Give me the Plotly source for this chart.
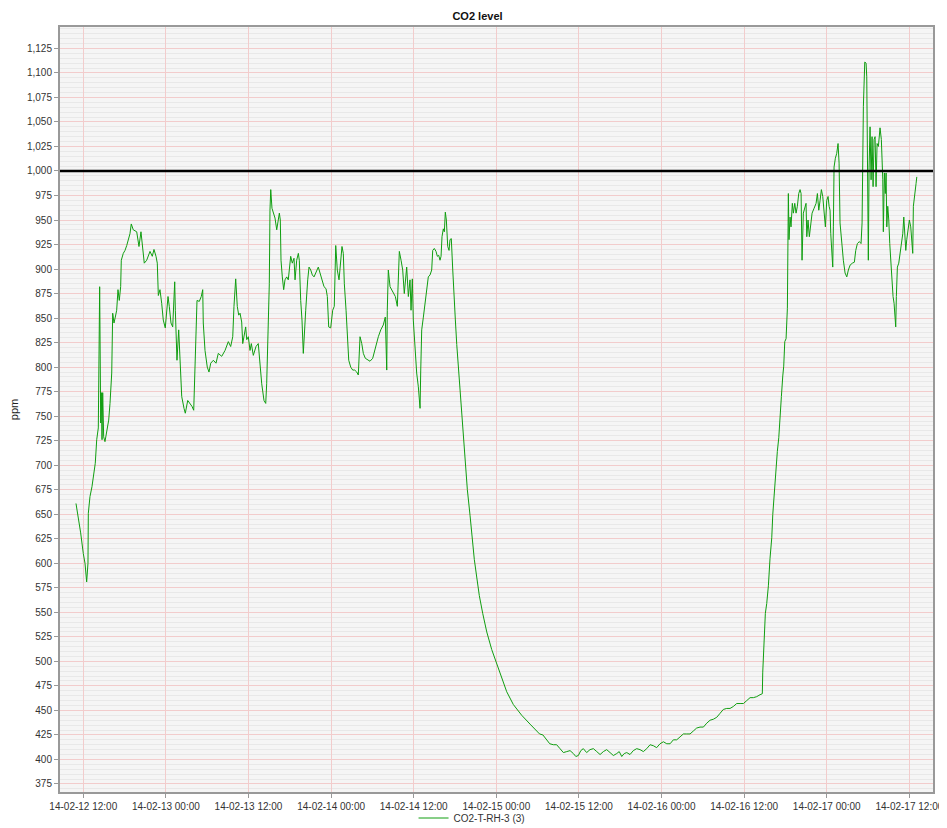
import pandas as pd
import plotly.graph_objects as go

# ---- data (hours since 2014-02-12 00:00, CO2 in ppm) ----
hours_since_start = [
    10.94, 11.27, 11.62, 12.00, 12.25, 12.49, 12.68, 12.73, 12.97, 13.26, 13.45, 13.74, 13.95, 14.18,
    14.38, 14.43, 14.53, 14.62, 14.72, 14.82, 14.96, 15.15, 15.40, 15.69, 15.88, 16.13, 16.27, 16.46,
    16.65, 16.85, 17.04, 17.23, 17.43, 17.52, 17.81, 18.06, 18.31, 18.54, 18.78, 18.97, 19.26, 19.76,
    20.09, 20.38, 20.63, 20.86, 21.21, 21.44, 21.69, 22.02, 22.27, 22.56, 22.75, 22.90, 23.14, 23.39,
    23.62, 23.91, 24.12, 24.31, 24.49, 24.74, 24.99, 25.28, 25.37, 25.47, 25.61, 25.86, 26.05, 26.30,
    26.63, 26.82, 27.17, 27.50, 27.79, 28.04, 28.18, 28.37, 28.52, 28.85, 29.14, 29.35, 29.43, 29.68,
    30.01, 30.26, 30.51, 30.89, 31.28, 31.61, 32.11, 32.59, 33.07, 33.41, 33.71, 33.89, 34.14, 34.37,
    34.58, 34.77, 35.01, 35.16, 35.35, 35.59, 35.74, 35.97, 36.22, 36.41, 36.70, 37.09, 37.42, 37.67,
    37.92, 38.25, 38.50, 38.64, 38.79, 38.88, 39.02, 39.12, 39.23, 39.41, 39.60, 39.85, 40.10, 40.33,
    40.48, 40.62, 40.72, 40.91, 41.11, 41.30, 41.55, 41.78, 41.93, 42.13, 42.36, 42.61, 42.76, 43.00,
    43.24, 43.38, 43.58, 43.77, 43.96, 44.11, 44.31, 44.60, 44.79, 45.04, 45.27, 45.52, 45.81, 46.14,
    46.39, 46.68, 46.97, 47.26, 47.45, 47.65, 47.94, 48.23, 48.46, 48.67, 48.90, 49.15, 49.39, 49.58,
    49.77, 49.92, 50.17, 50.35, 50.56, 50.85, 51.14, 51.43, 51.72, 51.95, 52.20, 52.45, 52.68, 52.97,
    53.32, 53.65, 54.04, 54.28, 54.52, 54.86, 55.21, 55.58, 55.87, 56.08, 56.16, 56.31, 56.56, 56.80,
    57.04, 57.33, 57.62, 57.76, 57.91, 58.16, 58.40, 58.63, 58.78, 58.98, 59.22, 59.46, 59.61, 59.80,
    59.94, 60.19, 60.43, 60.67, 60.92, 61.02, 61.16, 61.40, 61.64, 61.89, 62.12, 62.37, 62.61, 62.76,
    62.99, 63.24, 63.43, 63.63, 63.82, 63.97, 64.11, 64.30, 64.45, 64.59, 64.74, 64.94, 65.13, 65.27,
    65.46, 65.67, 65.86, 66.04, 66.25, 66.48, 66.73, 66.97, 67.21, 67.50, 67.79, 68.18, 68.47, 68.80,
    69.15, 69.53, 70.02, 70.61, 71.33, 72.06, 72.79, 73.51, 74.47, 75.69, 76.90,
    78.28, 78.76, 79.25, 79.76, 80.28, 80.76, 81.25, 81.74, 82.23, 82.71, 83.19, 83.55, 83.91, 84.27,
    84.64, 85.12, 85.61, 86.10, 86.59, 87.07, 87.55, 88.03, 88.52, 89.00, 89.49, 89.85, 90.22, 90.58,
    90.95, 91.42, 91.90, 92.39, 92.88, 93.36, 93.85, 94.33, 94.81, 95.29, 95.78, 96.27, 96.76, 97.24,
    97.72, 98.20, 98.69, 99.17, 99.66, 100.14, 100.62, 101.10, 101.59, 102.08, 102.57, 103.05, 103.53,
    104.02, 104.50, 104.98, 105.47, 105.95, 106.43, 106.92, 107.41, 107.90, 108.38, 108.86, 109.34,
    109.82, 110.31,
    110.64, 110.70, 110.89, 111.08, 111.28, 111.52, 111.76,
    112.01, 112.16, 112.39, 112.64, 112.82, 113.03, 113.22, 113.41, 113.61, 113.75, 113.90, 114.09,
    114.28, 114.42, 114.52, 114.67, 114.81, 115.00, 115.15, 115.35, 115.54, 115.73, 115.93, 116.12,
    116.27, 116.31, 116.41, 116.60, 116.80, 116.99, 117.10, 117.28, 117.47, 117.68, 117.87, 118.16,
    118.45, 118.64, 118.84, 119.03, 119.22, 119.42, 119.61, 119.80, 120.00, 120.19, 120.34, 120.48,
    120.58, 120.73, 120.87, 120.96, 121.06, 121.25, 121.45, 121.64, 121.79, 121.93, 122.18, 122.41,
    122.66, 122.91, 123.14, 123.39, 123.72, 124.01, 124.21, 124.45, 124.74, 124.98, 125.13, 125.17,
    125.32, 125.52, 125.71, 125.81, 125.90, 126.00, 126.04, 126.15, 126.29, 126.44, 126.58, 126.73,
    126.87, 127.02, 127.16, 127.31, 127.50, 127.74, 127.93, 128.14, 128.22, 128.37, 128.51, 128.62,
    128.72, 128.86, 129.01, 129.15, 129.30, 129.49, 129.63, 129.78, 129.92, 130.02, 130.11, 130.26,
    130.46, 130.65, 130.84, 131.04, 131.19, 131.33, 131.48, 131.62, 131.81, 132.00, 132.20, 132.35,
    132.49, 132.58, 132.79, 132.97, 133.08,
]

co2_ppm = [
    661, 647, 631, 610, 600, 581, 600, 651, 668, 678, 687, 702, 726, 738,
    882, 821, 743, 774, 726, 774, 729, 724, 733, 746, 763, 794, 855, 845,
    851, 858, 879, 868, 882, 909, 916, 919, 924, 931, 936, 946, 940, 938,
    923, 938, 923, 906, 909, 913, 918, 913, 920, 913, 906, 873, 879, 865,
    848, 840, 862, 872, 862, 845, 841, 887, 858, 831, 807, 838, 800, 770,
    758, 753, 766, 763, 760, 756, 797, 831, 868, 867, 872, 879, 845, 817,
    800, 795, 804, 807, 804, 814, 811, 817, 826, 821, 831, 862, 890, 862,
    853, 855, 846, 824, 834, 841, 828, 831, 817, 824, 812, 821, 824, 804,
    783, 766, 763, 783, 817, 848, 885, 960, 981, 962, 957, 952, 940, 950,
    957, 950, 909, 892, 879, 889, 892, 889, 902, 913, 906, 911, 889, 909,
    916, 909, 868, 848, 814, 841, 858, 889, 902, 899, 894, 892, 896, 902,
    896, 889, 882, 880, 872, 841, 840, 858, 862, 924, 899, 889, 906, 923,
    916, 885, 858, 834, 807, 800, 797, 797, 795, 792, 831, 824, 814, 809,
    807, 806, 809, 816, 824, 831, 838, 843, 851, 797, 858, 899, 882, 879,
    875, 872, 862, 889, 918, 909, 899, 875, 889, 902, 872, 889, 858, 890,
    848, 817, 794, 780, 758, 797, 838, 851, 865, 885, 892, 894, 899, 919,
    921, 918, 913, 914, 909, 913, 933, 941, 938, 958, 950, 923, 919, 930,
    931, 899, 879, 849, 823, 801, 775, 749, 723, 697, 675, 649, 626, 604,
    586, 567, 549, 530, 512, 497, 482, 469, 456, 445, 436,
    426, 425, 420, 416, 415, 415, 411, 407, 408, 409, 406, 403, 404, 409,
    411, 407, 410, 411, 408, 405, 408, 410, 407, 404, 406, 408, 403, 406,
    407, 405, 409, 411, 410, 408, 411, 415, 414, 412, 416, 418, 416, 416,
    420, 420, 423, 426, 426, 426, 429, 432, 433, 433, 437, 440, 441,
    443, 447, 451, 452, 452, 454, 457, 457, 457, 460, 463, 463,
    464, 466,
    467, 489, 513, 549, 559, 577, 605,
    626, 650, 675, 696, 714, 728, 745, 770, 791, 801, 826, 829,
    860, 977, 930, 953, 943, 967, 957, 967, 957, 964, 977, 981,
    977, 930, 909, 957, 964, 967, 933, 950, 933, 943, 957, 962,
    967, 977, 960, 970, 981, 974, 957, 943, 970, 974, 964, 960,
    936, 909, 902, 943, 1004, 1013, 1018, 1028, 1008, 947, 926, 909,
    896, 892, 899, 904, 906, 907, 919, 926, 928, 926, 947, 1004,
    1066, 1111, 1110, 1096, 1035, 974, 909, 1004, 1045, 991, 1035, 984,
    1032, 1035, 984, 1028, 1025, 1044, 1032, 991, 938, 998, 977, 998,
    943, 964, 950, 926, 909, 885, 872, 865, 851, 841, 872, 902,
    906, 916, 930, 936, 953, 933, 919, 930, 940, 950, 943, 926,
    916, 964, 974, 987, 994,
]

series_name = "CO2-T-RH-3 (3)"
chart_title = "CO2 level"
y_title = "ppm"
threshold_ppm = 1000
start_time = "2014-02-12 00:00"
x_range = ["2014-02-12 08:37", "2014-02-17 15:26"]
y_range = [366.8, 1146.8]

n = min(len(hours_since_start), len(co2_ppm))
times = pd.Timestamp(start_time) + pd.to_timedelta(hours_since_start[:n], unit="h")

fig = go.Figure()
fig.add_trace(go.Scatter(
    x=times, y=co2_ppm[:n], mode="lines", name=series_name,
    line=dict(color="#109e10", width=1),
))

fig.add_shape(type="line", xref="paper", x0=0, x1=1, yref="y",
              y0=threshold_ppm, y1=threshold_ppm,
              line=dict(color="black", width=2.5))

# The page body adds an 8px margin, so the figure is sized to the visible area.
W, H = 939, 820
font_family = "Liberation Sans, Arial, sans-serif"
fig.update_layout(
    width=W, height=H,
    margin=dict(l=52, r=14, t=19, b=36, autoexpand=False),
    paper_bgcolor="white",
    plot_bgcolor="#f5f5f5",
    font=dict(family=font_family, size=10, color="#444"),
    title=dict(text="<b>" + chart_title + "</b>", x=0.5, xanchor="center",
               y=1 - 8 / H, yanchor="middle",
               font=dict(size=11, color="#111", family=font_family)),
    showlegend=True,
    legend=dict(orientation="h", x=0.472, xanchor="center", y=-0.034, yanchor="middle",
                font=dict(size=10, color="#333"), itemwidth=30,
                bgcolor="rgba(0,0,0,0)"),
)

fig.update_xaxes(
    range=x_range, type="date", automargin=False,
    tick0="2014-02-12 00:00", dtick=12 * 3600 * 1000,
    tickformat="%y-%m-%d %H:%M",
    ticks="outside", ticklen=4, tickcolor="#999",
    showgrid=True, gridcolor="#f2cccc", gridwidth=1,
    minor=dict(showgrid=False),
    showline=True, linecolor="#999", linewidth=2, mirror=True,
    zeroline=False, tickfont=dict(size=10, color="#333"),
)
fig.update_yaxes(
    range=y_range, tick0=0, dtick=25, tickformat=",d", automargin=False,
    ticks="outside", ticklen=4, tickcolor="#999",
    showgrid=True, gridcolor="#f2cccc", gridwidth=1,
    minor=dict(dtick=5, tick0=0, showgrid=True, gridcolor="#e8e8e8", gridwidth=1),
    showline=True, linecolor="#999", linewidth=2, mirror=True,
    zeroline=False, tickfont=dict(size=10, color="#333"),
    title=dict(text=y_title, font=dict(size=11, color="#222"), standoff=8),
)

fig.write_html("out.html")
